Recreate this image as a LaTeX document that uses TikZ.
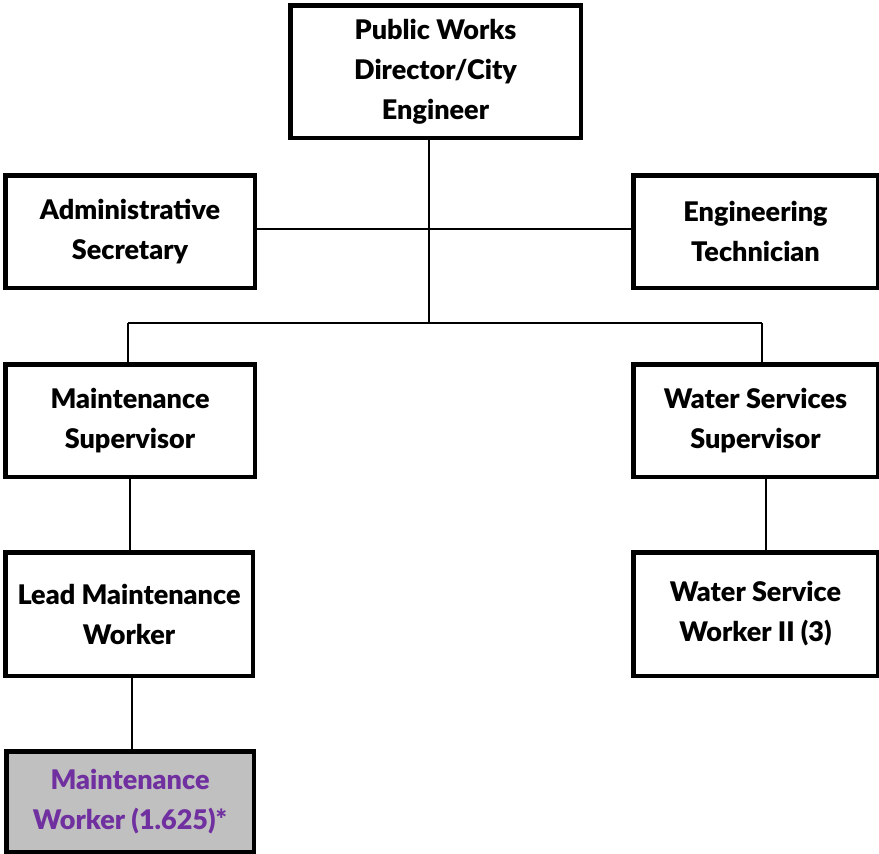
\documentclass[tikz,border=0pt]{standalone}
\usepackage{fontspec}
\setmainfont{Lato}[BoldFont={Lato Black}]
\definecolor{staffpurple}{HTML}{7030A0}
\definecolor{boxgray}{HTML}{C0C0C0}
\begin{document}
\begin{tikzpicture}[x=1pt,y=-1pt,
  post/.style={draw=black, line width=3pt, fill=white, align=center,
    font=\fontsize{27}{40}\selectfont\bfseries, inner sep=0pt},
  link/.style={draw=black, line width=1.6pt}]
\useasboundingbox (0,0) rectangle (879,854);
% posts
\node[post, minimum width=289pt, minimum height=131pt] (dir) at (435.5,71.5) {Public Works\\Director/City\\Engineer};
\node[post, minimum width=248pt, minimum height=111pt] (adm) at (130,231.5) {Administrative\\Secretary};
\node[post, minimum width=243pt, minimum height=111pt] (tech) at (755.5,231.5) {Engineering\\Technician};
\node[post, minimum width=248pt, minimum height=111pt] (msup) at (130,420.5) {Maintenance\\Supervisor};
\node[post, minimum width=243pt, minimum height=111pt] (wsup) at (755.5,420.5) {Water Services\\Supervisor};
\node[post, minimum width=246pt, minimum height=122pt] (lead) at (129,614) {Lead Maintenance\\Worker};
\node[post, minimum width=243pt, minimum height=122pt] (wsw) at (755.5,614) {Water Service\\Worker II (3)};
\node[post, fill=boxgray, text=staffpurple, minimum width=246pt, minimum height=99pt] (mw) at (130,801.5) {Maintenance\\Worker (1.625)*};
% junction points
\coordinate (trunk) at (429,136);
\coordinate (staff) at (429,229);
\coordinate (bus) at (429,323);
\coordinate (busl) at (128,323);
\coordinate (busr) at (762,323);
\coordinate (a1) at (130,476);
\coordinate (b1) at (766,476);
\coordinate (c1) at (132,675);
% connectors
\draw[link] (adm.east |- staff) -- (tech.west |- staff);
\draw[link] (trunk) -- (bus);
\draw[link] (busl) -- (busr);
\draw[link] (busl) -- (busl |- msup.north);
\draw[link] (busr) -- (busr |- wsup.north);
\draw[link] (a1) -- (a1 |- lead.north);
\draw[link] (b1) -- (b1 |- wsw.north);
\draw[link] (c1) -- (c1 |- mw.north);
% box edges over the connector ends
\foreach \n in {dir,adm,tech,msup,wsup,lead,wsw,mw}
  \draw[line width=3pt] (\n.north west) rectangle (\n.south east);
\end{tikzpicture}
\end{document}
